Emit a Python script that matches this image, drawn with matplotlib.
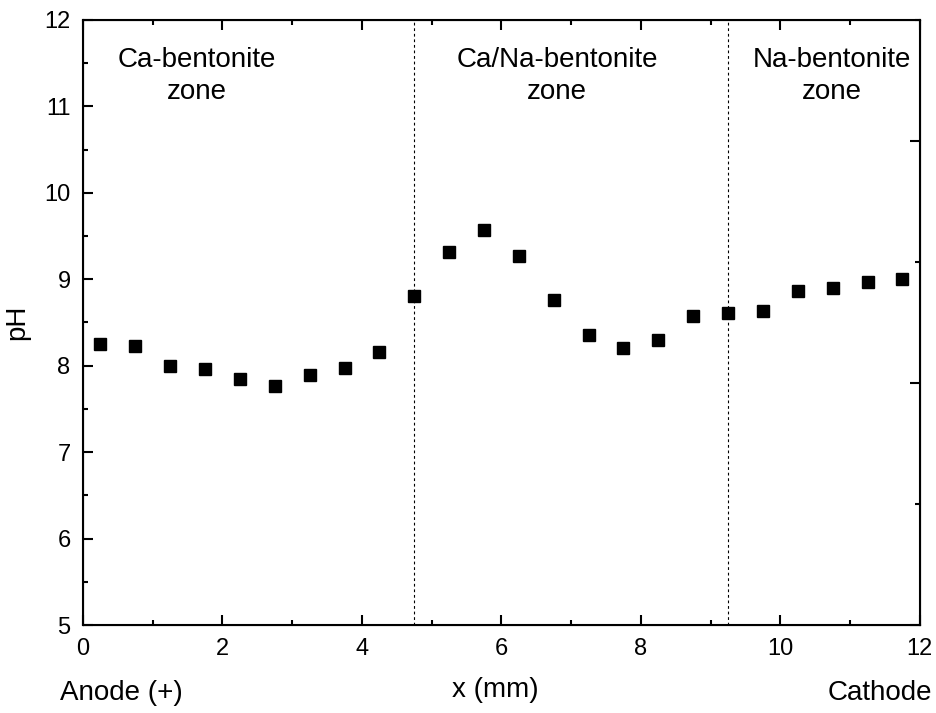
import numpy as np
import matplotlib.pyplot as plt
from matplotlib.ticker import MultipleLocator

plt.rcParams['font.family'] = ['Liberation Sans', 'DejaVu Sans']

# 데이터
x_mm = [0.25, 0.75, 1.25, 1.75, 2.25, 2.75, 3.25, 3.75, 4.25, 4.75, 5.25, 5.75,
        6.25, 6.75, 7.25, 7.75, 8.25, 8.75, 9.25, 9.75, 10.25, 10.75, 11.25, 11.75]
ph = [8.25, 8.23, 8.00, 7.96, 7.85, 7.77, 7.89, 7.97, 8.16, 8.81, 9.31, 9.57,
      9.27, 8.76, 8.35, 8.20, 8.30, 8.58, 8.61, 8.63, 8.87, 8.90, 8.97, 9.00]
zone_bounds = [4.75, 9.25]
zone_labels = ["Ca-bentonite\nzone", "Ca/Na-bentonite\nzone", "Na-bentonite\nzone"]
zone_label_x = [1.63, 6.8, 10.74]

fig = plt.figure(figsize=(9.36, 7.13), dpi=100)
ax = fig.add_axes([0.0887, 0.1234, 0.894, 0.8486])

ax.plot(x_mm, ph, 's', color='black', markersize=8.5, linestyle='none')

for b in zone_bounds:
    ax.axvline(b, color='black', linestyle=(0, (2.5, 2.5)), linewidth=0.8)

for lx, lab in zip(zone_label_x, zone_labels):
    ax.text(lx, 11.69, lab, ha='center', va='top', fontsize=20, linespacing=1.3)

ax.set_xlim(0, 12)
ax.set_ylim(5, 12)
ax.xaxis.set_major_locator(MultipleLocator(2))
ax.xaxis.set_minor_locator(MultipleLocator(1))
ax.yaxis.set_major_locator(MultipleLocator(1))
ax.yaxis.set_minor_locator(MultipleLocator(0.5))
ax.tick_params(which='both', direction='in', top=True, right=False, width=1.5, labelsize=17)
ax.tick_params(which='major', length=7)
ax.tick_params(which='minor', length=3.5)
ax.tick_params(axis='x', which='major', pad=9)
ax.tick_params(axis='y', which='major', pad=9)
for s in ax.spines.values():
    s.set_linewidth(1.5)

# 오른쪽 축 (라벨 없음)
ax2 = ax.twinx()
ax2.set_ylim(0, 1)
ax2.yaxis.set_major_locator(MultipleLocator(0.4))
ax2.yaxis.set_minor_locator(MultipleLocator(0.2))
ax2.tick_params(which='both', direction='in', width=1.5, labelright=False)
ax2.tick_params(which='major', length=7)
ax2.tick_params(which='minor', length=3.5)

ax.set_ylabel("pH", fontsize=20, labelpad=10)
fig.text(0.529, 0.032, "x (mm)", ha='center', va='center', fontsize=20)
fig.text(0.064, 0.028, "Anode (+)", ha='left', va='center', fontsize=20)
fig.text(0.996, 0.028, "Cathode", ha='right', va='center', fontsize=20)

plt.savefig("out.png", dpi=100)
